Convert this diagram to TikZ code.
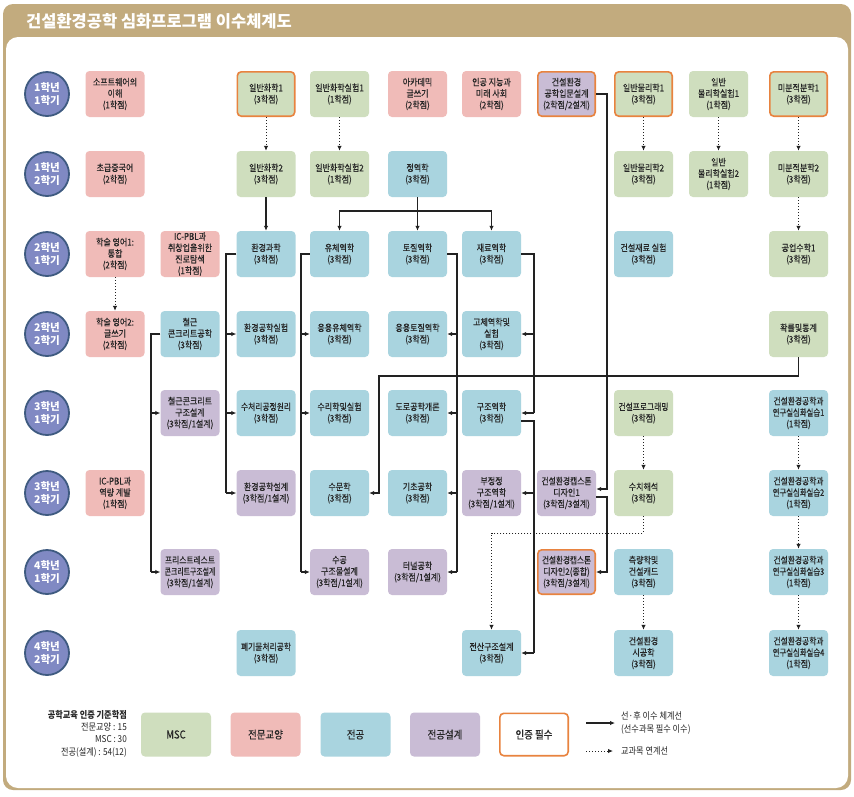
\documentclass[tikz,border=0pt]{standalone}
\usepackage{fontspec}
\usepackage{graphicx}
\usetikzlibrary{arrows.meta}
\setmainfont{Noto Sans CJK KR}[FakeStretch=0.86]
\newfontfamily\boxfont{Noto Sans CJK KR}[FakeStretch=0.86, FakeBold=0.4]
\newfontfamily\tfont{Noto Sans CJK KR}
\definecolor{mscc}{HTML}{CFDEBE}
\definecolor{genc}{HTML}{F0BBB8}
\definecolor{majc}{HTML}{A9D4DF}
\definecolor{desc}{HTML}{C9BCD5}
\definecolor{certc}{HTML}{E8833F}
\definecolor{circc}{HTML}{8089C3}
\definecolor{circb}{HTML}{3E5A80}
\definecolor{tanc}{HTML}{C2AB7E}
\definecolor{txtc}{HTML}{262626}
\definecolor{lnc}{HTML}{222222}
\newcommand\nrw[2]{\scalebox{#1}[1]{#2}}
\tikzset{
  box/.style={rounded corners=4pt, minimum width=59pt, minimum height=46pt, inner sep=1pt, align=center, text=txtc, font=\boxfont\fontsize{9.3}{11.4}\selectfont},
  msc/.style={box, fill=mscc},
  gen/.style={box, fill=genc},
  maj/.style={box, fill=majc},
  des/.style={box, fill=desc},
  cert/.style={draw=certc, line width=1.6pt, minimum width=57.4pt, minimum height=44.4pt},
  yr/.style={circle, minimum size=44pt, inner sep=0pt, fill=circc, draw=circb, line width=1.8pt, text=white, align=center, font=\tfont\fontsize{10.5}{12.5}\selectfont\bfseries},
  ln/.style={draw=lnc, line width=1.1pt},
  arr/.style={ln, -{Latex[length=5pt,width=4.5pt]}},
  dotarr/.style={draw=lnc, line width=1pt, dash pattern=on 1pt off 2pt, -{Latex[length=5pt,width=4.5pt]}},
  lgbox/.style={box, minimum width=70pt, minimum height=44pt, font=\boxfont\fontsize{11}{12}\selectfont},
  lgtxt/.style={text=txtc, font=\fontsize{9.5}{12.3}\selectfont, inner sep=0pt}
}
\begin{document}
\begin{tikzpicture}[x=1pt,y=-1pt]
\useasboundingbox (0,0) rectangle (854,796);
% frame
\fill[tanc, rounded corners=10pt] (3,4) rectangle (851,790);
\fill[white, rounded corners=12pt] (6,37) rectangle (848,788);
\node[anchor=west, text=white, font=\tfont\fontsize{16.5}{18}\selectfont\bfseries, inner sep=0pt] (title) at (26,21) {건설환경공학 심화프로그램 이수체계도};
% year circles
\node[yr] (y1) at (47,94) {1학년\\1학기};
\node[yr] (y2) at (47,174) {1학년\\2학기};
\node[yr] (y3) at (47,254) {2학년\\1학기};
\node[yr] (y4) at (47,334) {2학년\\2학기};
\node[yr] (y5) at (47,413) {3학년\\1학기};
\node[yr] (y6) at (47,493) {3학년\\2학기};
\node[yr] (y7) at (47,572) {4학년\\1학기};
\node[yr] (y8) at (47,653) {4학년\\2학기};
% row 1
\node[gen] (r1c1) at (115,94) {소프트웨어의\\이해\\(1학점)};
\node[msc,cert] (r1c3) at (266,94) {일반화학1\\(3학점)};
\node[msc] (r1c4) at (339.5,94) {일반화학실험1\\(1학점)};
\node[gen] (r1c5) at (417.5,94) {아카데믹\\글쓰기\\(2학점)};
\node[gen] (r1c6) at (491.5,94) {인공 지능과\\미래 사회\\(2학점)};
\node[des,cert] (r1c7) at (566.5,94) {건설환경\\공학입문설계\\(2학점/2설계)};
\node[msc,cert] (r1c8) at (643.5,94) {일반물리학1\\(3학점)};
\node[msc] (r1c9) at (718.5,94) {일반\\물리학실험1\\(1학점)};
\node[msc,cert] (r1c10) at (798.5,94) {미분적분학1\\(3학점)};
% row 2
\node[gen] (r2c1) at (115,174) {초급중국어\\(2학점)};
\node[msc] (r2c3) at (266,174) {일반화학2\\(3학점)};
\node[msc] (r2c4) at (339.5,174) {일반화학실험2\\(1학점)};
\node[maj] (r2c5) at (417.5,174) {정역학\\(3학점)};
\node[msc] (r2c8) at (643.5,174) {일반물리학2\\(3학점)};
\node[msc] (r2c9) at (718.5,174) {일반\\물리학실험2\\(1학점)};
\node[msc] (r2c10) at (798.5,174) {미분적분학2\\(3학점)};
% row 3
\node[gen] (r3c1) at (115,254) {학술 영어1:\\통합\\(2학점)};
\node[gen] (r3c2) at (190,254) {IC-PBL과\\취창업을위한\\진로탐색\\(1학점)};
\node[maj] (r3c3) at (266,254) {환경과학\\(3학점)};
\node[maj] (r3c4) at (339.5,254) {유체역학\\(3학점)};
\node[maj] (r3c5) at (417.5,254) {토질역학\\(3학점)};
\node[maj] (r3c6) at (491.5,254) {재료역학\\(3학점)};
\node[maj] (r3c8) at (643.5,254) {건설재료 실험\\(3학점)};
\node[msc] (r3c10) at (798.5,254) {공업수학1\\(3학점)};
% row 4
\node[gen] (r4c1) at (115,334) {학술 영어2:\\글쓰기\\(2학점)};
\node[maj] (r4c2) at (190,334) {철근\\콘크리트공학\\(3학점)};
\node[maj] (r4c3) at (266,334) {환경공학실험\\(3학점)};
\node[maj] (r4c4) at (339.5,334) {응용유체역학\\(3학점)};
\node[maj] (r4c5) at (417.5,334) {응용토질역학\\(3학점)};
\node[maj] (r4c6) at (491.5,334) {고체역학및\\실험\\(3학점)};
\node[msc] (r4c10) at (798.5,334) {확률및통계\\(3학점)};
% row 5
\node[des] (r5c2) at (190,413) {철근콘크리트\\구조설계\\(3학점/1설계)};
\node[maj] (r5c3) at (266,413) {\nrw{0.97}{수처리공정원리}\\(3학점)};
\node[maj] (r5c4) at (339.5,413) {수리학및실험\\(3학점)};
\node[maj] (r5c5) at (417.5,413) {도로공학개론\\(3학점)};
\node[maj] (r5c6) at (491.5,413) {구조역학\\(3학점)};
\node[msc] (r5c8) at (643.5,413) {\nrw{0.97}{건설프로그래밍}\\(3학점)};
\node[maj] (r5c10) at (798.5,413) {\nrw{0.97}{건설환경공학과}\\\nrw{0.92}{연구실심화실습1}\\(1학점)};
% row 6
\node[gen] (r6c1) at (115,493) {IC-PBL과\\역량 계발\\(1학점)};
\node[des] (r6c3) at (266,493) {환경공학설계\\(3학점/1설계)};
\node[maj] (r6c4) at (339.5,493) {수문학\\(3학점)};
\node[maj] (r6c5) at (417.5,493) {기초공학\\(3학점)};
\node[des] (r6c6) at (491.5,493) {부정정\\구조역학\\(3학점/1설계)};
\node[des] (r6c7) at (566.5,493) {\nrw{0.97}{건설환경캡스톤}\\디자인1\\(3학점/3설계)};
\node[msc] (r6c8) at (643.5,493) {수치해석\\(3학점)};
\node[maj] (r6c10) at (798.5,493) {\nrw{0.97}{건설환경공학과}\\\nrw{0.92}{연구실심화실습2}\\(1학점)};
% row 7
\node[des] (r7c2) at (190,572) {\nrw{0.97}{프리스트레스트}\\\nrw{0.86}{콘크리트구조설계}\\(3학점/1설계)};
\node[des] (r7c4) at (339.5,572) {수공\\구조물설계\\(3학점/1설계)};
\node[des] (r7c5) at (417.5,572) {터널공학\\(3학점/1설계)};
\node[des,cert] (r7c7) at (566.5,572) {\nrw{0.95}{건설환경캡스톤}\\디자인2(종합)\\(3학점/3설계)};
\node[maj] (r7c8) at (643.5,572) {측량학및\\건설캐드\\(3학점)};
\node[maj] (r7c10) at (798.5,572) {\nrw{0.97}{건설환경공학과}\\\nrw{0.92}{연구실심화실습3}\\(1학점)};
% row 8
\node[maj] (r8c3) at (266,653) {\nrw{0.97}{폐기물처리공학}\\(3학점)};
\node[maj] (r8c6) at (491.5,653) {전산구조설계\\(3학점)};
\node[maj] (r8c8) at (643.5,653) {건설환경\\시공학\\(3학점)};
\node[maj] (r8c10) at (798.5,653) {\nrw{0.97}{건설환경공학과}\\\nrw{0.92}{연구실심화실습4}\\(1학점)};
% dotted links
\draw[dotarr] (r1c3) -- (r2c3);
\draw[dotarr] (r1c4) -- (r2c4);
\draw[dotarr] (r1c8) -- (r2c8);
\draw[dotarr] (r1c9) -- (r2c9);
\draw[dotarr] (r1c10) -- (r2c10);
\draw[dotarr] (r2c10) -- (r3c10);
\draw[dotarr] (r3c1) -- (r4c1);
\draw[dotarr] (r5c8) -- (r6c8);
\draw[dotarr] (r7c8) -- (r8c8);
\draw[dotarr] (r5c10) -- (r6c10);
\draw[dotarr] (r6c10) -- (r7c10);
\draw[dotarr] (r7c10) -- (r8c10);
\coordinate (d1) at (491.5,533);
\draw[dotarr] (r6c8.south) |- (d1) -- (r8c6);
% solid prerequisites
\draw[arr] (r2c3) -- (r3c3);
\coordinate (s1) at (417.5,211);
\draw[ln] (r2c5.south) -- (s1);
\draw[arr] (s1) -- (r3c5);
\draw[arr] (s1) -| (r3c4);
\draw[arr] (s1) -| (r3c6);
% 환경과학
\coordinate (t1) at (226,254);
\draw[ln] (r3c3.west) -- (t1) -- (t1 |- r6c3);
\draw[arr] (t1 |- r4c3) -- (r4c3);
\draw[arr] (t1 |- r5c3) -- (r5c3);
\draw[arr] (t1 |- r6c3) -- (r6c3);
% 유체역학
\coordinate (t2) at (301,254);
\draw[ln] (r3c4.west) -- (t2) -- (t2 |- r7c4);
\draw[arr] (t2 |- r4c4) -- (r4c4);
\draw[arr] (t2 |- r5c4) -- (r5c4);
\draw[arr] (t2 |- r7c4) -- (r7c4);
% 토질역학
\coordinate (t3) at (457,254);
\draw[ln] (r3c5.east) -- (t3) -- (t3 |- r7c5);
\draw[arr] (t3 |- r4c5) -- (r4c5);
\draw[arr] (t3 |- r5c5) -- (r5c5);
\draw[arr] (t3 |- r6c5) -- (r6c5);
\draw[arr] (t3 |- r7c5) -- (r7c5);
% 재료역학
\coordinate (t4) at (534,254);
\draw[ln] (r3c6.east) -- (t4) -- (t4 |- r5c6);
\draw[arr] (t4 |- r4c6) -- (r4c6);
\draw[arr] (t4 |- r5c6) -- (r5c6);
% 구조역학
\coordinate (t5) at (534,421);
\draw[ln] ([yshift=-8pt]r5c6.east) -- (t5) -- (t5 |- r8c6);
\draw[arr] (t5 |- r6c6) -- (r6c6);
\draw[arr] (t5 |- r8c6) -- (r8c6);
% 입문설계 -> 캡스톤
\coordinate (t6) at (607,94);
\coordinate (t6b) at (607,489);
\draw[arr] (r1c7.east) -- (t6) -- (t6b) -- (t6b -| r6c7.east);
\coordinate (t7) at (607,497);
\draw[arr] (t7 -| r6c7.east) -- (t7) |- (r7c7);
% 철근콘크리트공학
\coordinate (t8) at (151,334);
\draw[ln] (r4c2.west) -- (t8) -- (t8 |- r7c2);
\draw[arr] (t8 |- r5c2) -- (r5c2);
\draw[arr] (t8 |- r7c2) -- (r7c2);
% 확률및통계 -> 수문학
\coordinate (h1) at (379,376);
\draw[arr] (r4c10.south) |- (h1) |- (r6c4);
% legend
\node[lgtxt, anchor=east, align=right] (lgt) at (127,733.5) {{\bfseries 공학교육 인증 기준학점}\\전문교양 : 15\\MSC : 30\\전공(설계) : 54(12)};
\node[lgbox, fill=mscc] (lg1) at (176,734.5) {MSC};
\node[lgbox, fill=genc] (lg2) at (265.5,734.5) {전문교양};
\node[lgbox, fill=majc] (lg3) at (355.5,734.5) {전공};
\node[lgbox, fill=desc] (lg4) at (445,734.5) {전공설계};
\node[lgbox, fill=white, draw=certc, line width=1.6pt, minimum width=68.4pt, minimum height=42.4pt] (lg5) at (534,734.5) {인증 필수};
\coordinate (la1) at (586,723);
\coordinate (la2) at (615,723);
\draw[arr] (la1) -- (la2);
\node[lgtxt, anchor=west, align=left] (lt1) at (621,723) {선·후 이수 체계선\\(선수과목 필수 이수)};
\coordinate (lb1) at (586,751);
\coordinate (lb2) at (613,751);
\draw[dotarr] (lb1) -- (lb2);
\node[lgtxt, anchor=west] (lt2) at (621,751) {교과목 연계선};
\end{tikzpicture}
\end{document}
